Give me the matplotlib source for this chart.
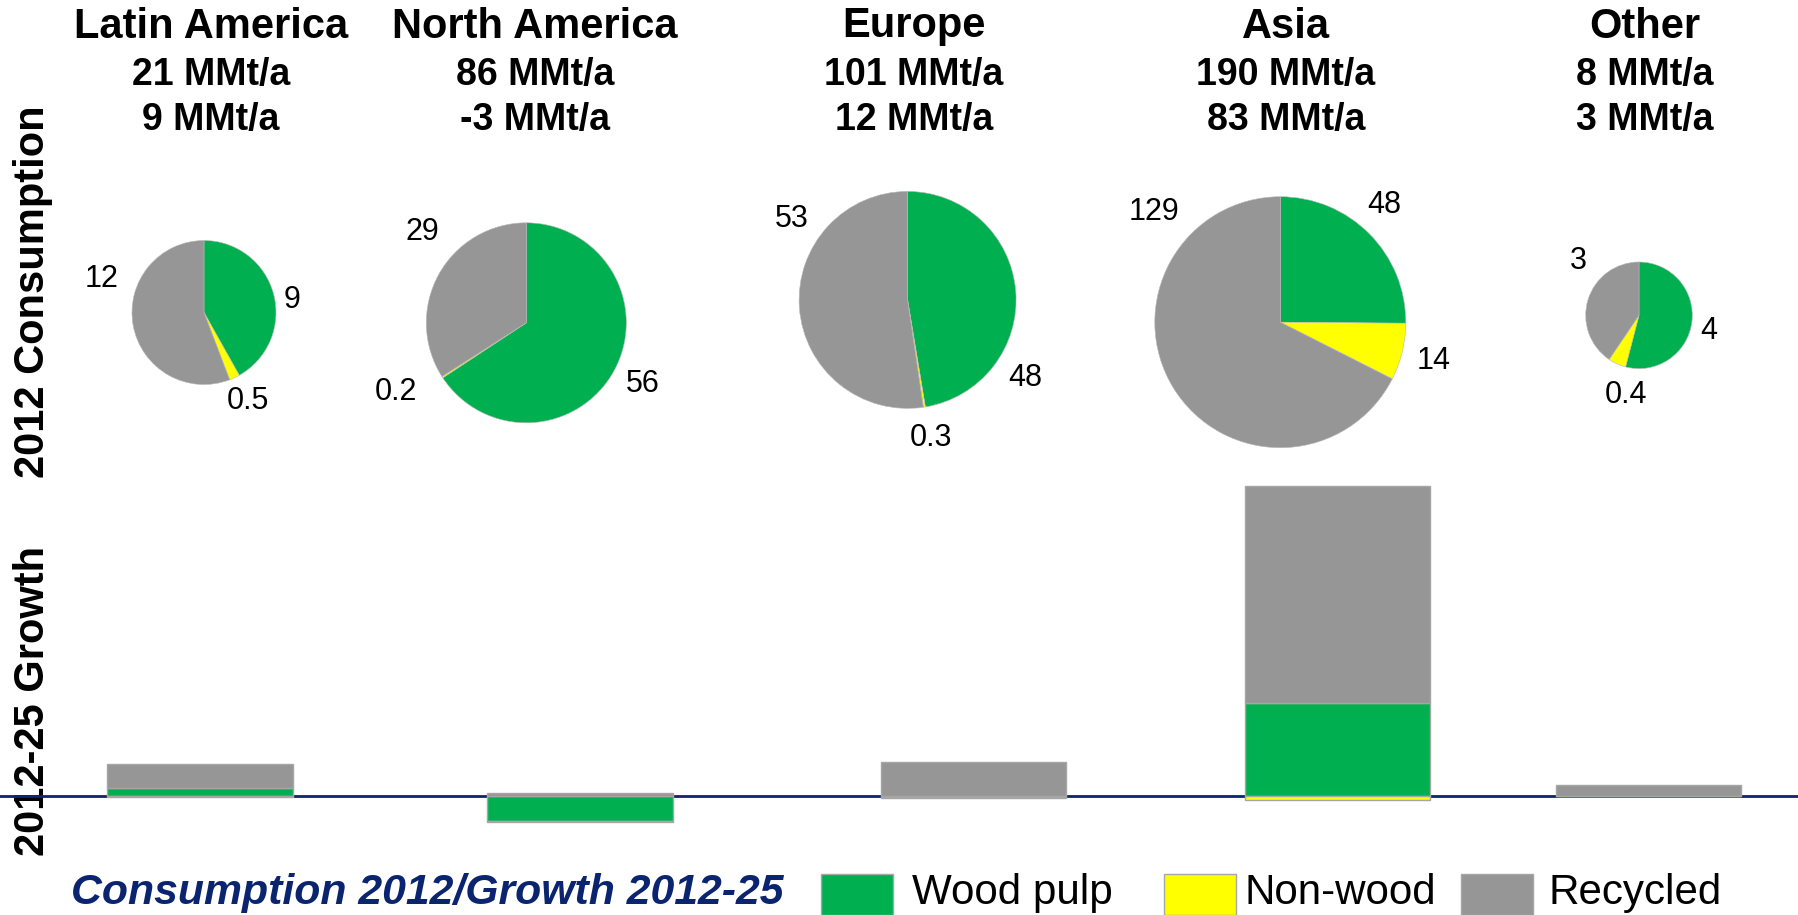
import matplotlib
matplotlib.use("Agg")
import matplotlib.pyplot as plt
from matplotlib.patches import Rectangle

plt.rcParams["font.family"] = ["Liberation Sans", "DejaVu Sans"]

# ---------------- data ----------------
regions = ["Latin America", "North America", "Europe", "Asia", "Other"]
consumption_total = ["21 MMt/a", "86 MMt/a", "101 MMt/a", "190 MMt/a", "8 MMt/a"]
growth_total = ["9 MMt/a", "-3 MMt/a", "12 MMt/a", "83 MMt/a", "3 MMt/a"]

fibres = ["Wood pulp", "Non-wood", "Recycled"]

# 2012 consumption by fibre, MMt/a
cons_wood = [9, 56, 48, 48, 4]
cons_nonwood = [0.5, 0.2, 0.3, 14, 0.4]
cons_recycled = [12, 29, 53, 129, 3]

# 2012-25 growth by fibre, MMt/a
grow_wood = [2.1, -6.8, -0.3, 25.3, 0.0]
grow_nonwood = [-0.3, -0.4, -0.3, -1.1, 0.0]
grow_recycled = [6.5, 0.7, 9.2, 59.0, 3.0]

# ---------------- style / layout ----------------
colors = ["#00B050", "#FFFF00", "#969696"]
edge = "#A6A6A6"
navy = "#0A2470"

W, H = 1798, 915
fig = plt.figure(figsize=(W / 100, H / 100), dpi=100)

# layout axis in pixel units (y measured from the top)
lay = fig.add_axes([0, 0, 1, 1])
lay.set_axis_off()


def fy(y):
    return H - y


title_x = [211, 535, 914, 1286, 1645]
pie_center = [(204, 312.5), (526.3, 322.8), (907.6, 299.9), (1280.3, 322.2), (1639, 315.3)]
pie_radius = [72, 100, 108.5, 125.5, 53.3]
# label offsets in radius units: wood, non-wood, recycled
label_offset = [
    [(1.22, 0.17), (0.61, -1.23), (-1.42, 0.47)],
    [(1.16, -0.61), (-1.30, -0.69), (-1.04, 0.91)],
    [(1.08, -0.72), (0.22, -1.27), (-1.07, 0.75)],
    [(0.83, 0.93), (1.22, -0.31), (-1.01, 0.88)],
    [(1.31, -0.30), (-0.24, -1.49), (-1.14, 1.02)],
]

# column headers
for i, name in enumerate(regions):
    lay.text(title_x[i], fy(37.5), name, ha="center", va="baseline",
             fontsize=30, fontweight="bold")
    lay.text(title_x[i], fy(85), consumption_total[i], ha="center", va="baseline",
             fontsize=27, fontweight="bold")
    lay.text(title_x[i], fy(130), growth_total[i], ha="center", va="baseline",
             fontsize=27, fontweight="bold")

# consumption pies
for i in range(len(regions)):
    vals = [cons_wood[i], cons_nonwood[i], cons_recycled[i]]
    cx, cy = pie_center[i]
    r = pie_radius[i]
    lay.pie(vals, colors=colors, startangle=90, counterclock=False,
            center=(cx, fy(cy)), radius=r,
            wedgeprops=dict(edgecolor="#B8B8B8", linewidth=0.4))
    for v, (ox, oy) in zip(vals, label_offset[i]):
        lay.text(cx + ox * r, fy(cy) + oy * r, f"{v:g}", ha="center", va="center",
                 fontsize=22)

lay.set_xlim(0, W)
lay.set_ylim(0, H)
lay.set_aspect("auto")

# row labels
lay.text(33, fy(292), "2012 Consumption", rotation=90, ha="center", va="center",
         fontsize=30, fontweight="bold")
lay.text(33, fy(701), "2012-25 Growth", rotation=90, ha="center", va="center",
         fontsize=30, fontweight="bold")

# legend
lay.text(71, fy(893), "Consumption 2012/Growth 2012-25", ha="left", va="center",
         fontsize=30.8, fontweight="bold", fontstyle="italic", color=navy)
legend_patch_x = [821, 1164, 1461]
legend_text_x = [912, 1245, 1548]
for c, name, px, tx in zip(colors, fibres, legend_patch_x, legend_text_x):
    lay.add_patch(Rectangle((px, fy(915)), 72, 41, facecolor=c, edgecolor=edge,
                            linewidth=1.0))
    lay.text(tx, fy(893), name, ha="left", va="center", fontsize=30.3)

# growth bars
bar_top, bar_bottom = 480, 840
ax = fig.add_axes([0, fy(bar_bottom) / H, 1, (bar_bottom - bar_top) / H])
ax.set_axis_off()
ax.patch.set_alpha(0)
bar_x = [c / W for c in [200, 580, 973, 1337, 1648]]
bar_w = 185 / W

ax.axhline(0, color=navy, linewidth=2.0, zorder=1)

pos_base = [0.0] * len(regions)
neg_base = [0.0] * len(regions)
for series, c in zip([grow_wood, grow_nonwood, grow_recycled], colors):
    bottoms = [pos_base[i] if v >= 0 else neg_base[i] for i, v in enumerate(series)]
    ax.bar(bar_x, series, width=bar_w, bottom=bottoms, color=c, edgecolor=edge,
           linewidth=1.0, zorder=2)
    for i, v in enumerate(series):
        if v >= 0:
            pos_base[i] += v
        else:
            neg_base[i] += v

ax.set_xlim(0, 1)
ax.set_ylim(-12.0, 85.9)

fig.savefig("out.png", dpi=100)
